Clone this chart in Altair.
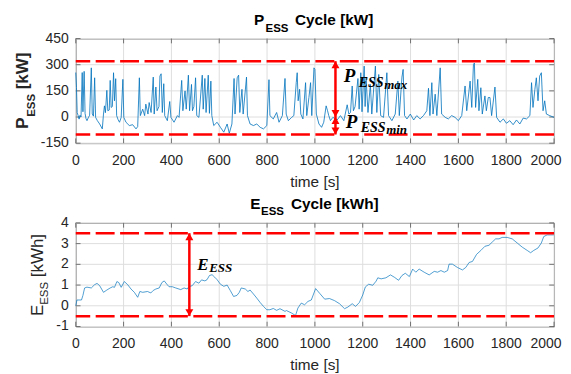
import altair as alt
import pandas as pd

SANS = "Liberation Sans"
SERIF = "Liberation Serif"
BLUE = "#0072BD"
RED = "#ff0000"
DARK = "#262626"
GRID = "#dedede"
TICK = "#555555"

# ---- data ----
p_t = [0, 3, 6, 10, 14, 18, 22, 27, 30, 35, 39, 43, 47, 52, 58, 65, 69, 74, 79, 83,
       90, 100, 111, 116, 120, 124, 130, 134, 140, 144, 148, 153, 158, 162, 167, 171, 177, 183, 190, 197,
       201, 210, 224, 238, 252, 259, 266, 270, 280, 288, 293, 302, 307, 315, 324, 328, 335, 340, 348, 352,
       357, 362, 368, 372, 383, 393, 398, 411, 425, 432, 443, 448, 457, 462, 471, 476, 484, 488, 494, 501,
       506, 515, 529, 533, 540, 545, 554, 559, 565, 569, 577, 591, 605, 619, 633, 642, 653, 662, 666, 675,
       681, 686, 695, 700, 714, 718, 729, 743, 757, 771, 785, 799, 808, 812, 826, 840, 850, 864, 875, 880,
       889, 903, 912, 922, 926, 930, 936, 941, 950, 961, 966, 975, 982, 987, 996, 1000, 1006, 1017, 1028, 1037,
       1047, 1053, 1058, 1065, 1075, 1093, 1107, 1121, 1135, 1142, 1149, 1156, 1161, 1168, 1180, 1185, 1192, 1197, 1206, 1210,
       1214, 1222, 1232, 1238, 1253, 1259, 1267, 1275, 1287, 1301, 1308, 1322, 1336, 1347, 1353, 1364, 1369, 1375, 1385, 1399,
       1413, 1426, 1440, 1454, 1468, 1475, 1481, 1489, 1494, 1503, 1510, 1524, 1530, 1545, 1558, 1572, 1586, 1600, 1614, 1628,
       1635, 1649, 1656, 1663, 1667, 1672, 1681, 1686, 1694, 1700, 1711, 1717, 1725, 1732, 1739, 1753, 1760, 1774, 1788, 1801,
       1815, 1829, 1843, 1857, 1871, 1885, 1899, 1906, 1912, 1920, 1926, 1933, 1940, 1947, 1954, 1961, 1968, 1982, 2000]
p_v = [255, 170, 25, 8, -12, 10, 0, 255, 30, 262, 20, -10, -21, -5, 10, 282, 17, 5, 225, -2,
       -20, -40, -68, 17, 64, 25, 153, 36, 40, 210, 55, 60, 254, 93, 220, 8, -15, -30, -2, 216,
       -2, -30, -49, -44, -68, -55, 225, 8, 45, 8, 74, 17, 83, 26, 229, 17, 172, 36, 60, 235,
       248, 26, 191, 8, -21, 89, -2, -30, 8, -2, 210, 36, 150, 45, 240, 36, 187, 36, 60, 225,
       8, -2, 240, 45, 221, 26, 240, 21, 206, 8, -49, -30, -59, -87, -40, -93, -40, 221, 17, 225,
       240, 26, 159, 17, 229, 8, -40, -49, -40, -59, -68, -49, 214, 8, -11, 26, -30, 8, 221, 17,
       -21, -2, 8, 197, 254, 93, 159, 17, -11, 197, 8, 112, 197, 8, 282, 273, 17, -40, -59, -30,
       64, 36, 8, -21, -2, -17, 8, -21, 70, 17, 26, 178, 36, 60, 221, 45, 254, 30, 292, 60,
       225, 26, 187, 17, 292, 26, 244, 8, -2, 254, 8, -21, 17, 206, 8, 229, 273, 8, -11, 17,
       -17, 8, -11, 8, 36, 165, 8, 197, 17, 131, 8, 282, 17, -2, -11, 8, -2, -21, 8, 178,
       36, 206, 55, 301, 310, 55, 216, 36, 168, 17, 121, 36, 112, 112, 8, 172, -2, -30, -11, -36,
       -21, -44, -17, -40, -6, -11, 8, 197, 55, 159, 225, 93, 235, 254, 36, 93, 17, 8, -2]

e_t = [0, 5, 24, 30, 37, 47, 65, 79, 89, 100, 116, 130, 144, 155, 162, 172, 180, 190, 203, 217,
       231, 245, 259, 268, 280, 300, 314, 324, 335, 349, 360, 370, 381, 390, 404, 418, 439, 453, 466, 473,
       487, 501, 515, 526, 540, 549, 559, 570, 581, 591, 605, 619, 633, 646, 660, 674, 684, 692, 709, 720,
       729, 743, 757, 771, 785, 799, 812, 826, 840, 854, 875, 881, 901, 919, 929, 943, 957, 971, 985, 1003,
       1020, 1041, 1061, 1082, 1103, 1124, 1138, 1156, 1170, 1186, 1200, 1211, 1225, 1242, 1256, 1263, 1277, 1297, 1316, 1332,
       1350, 1364, 1378, 1395, 1409, 1422, 1436, 1457, 1478, 1499, 1513, 1527, 1541, 1555, 1561, 1575, 1596, 1617, 1631, 1645,
       1659, 1676, 1694, 1711, 1728, 1742, 1756, 1770, 1783, 1804, 1825, 1846, 1867, 1888, 1902, 1915, 1933, 1947, 1957, 1971, 1999]
e_v = [0.0, 0.28, 0.28, 0.5, 0.86, 0.9, 0.86, 1.02, 1.08, 0.97, 0.65, 0.76, 0.86, 0.92, 0.89, 1.17, 1.12, 0.89, 1.17, 1.02,
       0.81, 0.65, 0.41, 0.69, 0.65, 0.69, 0.62, 0.74, 0.81, 0.86, 1.12, 1.2, 1.04, 0.92, 0.92, 0.86, 0.78, 0.86, 0.81, 0.92,
       0.97, 1.17, 1.09, 1.25, 1.2, 1.26, 1.46, 1.5, 1.38, 1.26, 1.04, 0.94, 1.0, 0.74, 0.45, 0.5, 0.65, 0.86, 0.81, 0.69,
       0.76, 0.57, 0.37, 0.16, -0.03, -0.19, -0.19, -0.13, -0.22, -0.14, -0.27, -0.23, -0.34, -0.47, -0.11, 0.13, 0.05, 0.21, 0.28, 0.83,
       0.6, 0.32, 0.35, 0.25, 0.1, -0.14, -0.06, 0.1, -0.03, 0.16, 0.52, 0.91, 1.04, 0.99, 1.19, 1.35, 1.3, 1.35, 1.49, 1.38,
       1.23, 1.46, 1.57, 1.41, 1.77, 1.62, 1.77, 1.62, 1.49, 1.66, 1.62, 1.7, 1.62, 1.7, 2.01, 2.01, 1.85, 1.73, 1.85, 2.09,
       2.14, 2.48, 2.67, 2.87, 2.92, 3.08, 3.23, 3.23, 3.3, 3.3, 3.23, 3.03, 2.83, 2.67, 2.56, 2.67, 2.79, 3.03, 3.34, 3.42, 3.42]

x_ticks = [0, 200, 400, 600, 800, 1000, 1200, 1400, 1600, 1800, 2000]
p_ticks = [-150, 0, 150, 300, 450]
e_ticks = [-1, 0, 1, 2, 3, 4]
p_limits = [320, -100]          # P_ESS max / min dashed lines
e_limits = [3.5, -0.5]          # E_ESS dashed lines
p_arrow_t = 1086
p_arrow_mid = 0
e_arrow_t = 475

W = 480
H1 = 105
H2 = 104
NOAX = None


def X(field="t"):
    return alt.X(field + ":Q", axis=NOAX)


def Y(field="v"):
    return alt.Y(field + ":Q", axis=NOAX)


def frame_layers(yvals, h):
    gx = alt.Chart(alt.Data(values=[{"t": t} for t in x_ticks])).mark_rule(
        color=GRID, strokeWidth=1).encode(x=X())
    gy = alt.Chart(alt.Data(values=[{"v": v} for v in yvals])).mark_rule(
        color=GRID, strokeWidth=1).encode(y=Y())
    # inward tick marks on all four sides of the box
    tb = alt.Chart(alt.Data(values=[{"t": t} for t in x_ticks])).mark_rule(
        color=TICK, strokeWidth=0.8).encode(x=X(), y=alt.value(h - 4.8), y2=alt.value(h))
    tt = alt.Chart(alt.Data(values=[{"t": t} for t in x_ticks])).mark_rule(
        color=TICK, strokeWidth=0.8).encode(x=X(), y=alt.value(0), y2=alt.value(4.8))
    tl = alt.Chart(alt.Data(values=[{"v": v} for v in yvals])).mark_rule(
        color=TICK, strokeWidth=0.8).encode(y=Y(), x=alt.value(0), x2=alt.value(4.8))
    tr = alt.Chart(alt.Data(values=[{"v": v} for v in yvals])).mark_rule(
        color=TICK, strokeWidth=0.8).encode(y=Y(), x=alt.value(W - 4.8), x2=alt.value(W))
    ylab = alt.Chart(alt.Data(values=[{"v": v, "s": str(v)} for v in yvals])).mark_text(
        align="right", baseline="middle", fontSize=14, font=SANS, color=DARK
    ).encode(y=Y(), x=alt.value(-7), text="s:N")
    xlab = alt.Chart(alt.Data(values=[{"t": t, "s": str(t)} for t in x_ticks[:-1]])).mark_text(
        align="center", baseline="alphabetic", fontSize=14, font=SANS, color=DARK
    ).encode(x=X(), y=alt.value(h + 21.5), text="s:N")
    xlast = alt.Chart(alt.Data(values=[{"t": t, "s": str(t)} for t in x_ticks[-1:]])).mark_text(
        align="center", baseline="alphabetic", fontSize=14, font=SANS, color=DARK, dx=-8
    ).encode(x=X(), y=alt.value(h + 21.5), text="s:N")
    xtitle = alt.Chart(alt.Data(values=[{"s": "time [s]"}])).mark_text(
        align="center", baseline="alphabetic", fontSize=15.4, font=SANS, color=DARK
    ).encode(x=alt.value(W / 2), y=alt.value(h + 43.5), text="s:N")
    return [gx, gy, tb, tt, tl, tr, ylab, xlab, xlast, xtitle]


def pix_text(text, x, y, size, weight="normal", style="normal", font=SANS,
             angle=0, color="#000000"):
    return alt.Chart(alt.Data(values=[{"s": text}])).mark_text(
        align="left", baseline="alphabetic", fontSize=size, fontWeight=weight,
        fontStyle=style, font=font, angle=angle, color=color
    ).encode(x=alt.value(x), y=alt.value(y), text="s:N")


def data_text(rows, size):
    return alt.Chart(alt.Data(values=rows)).mark_text(
        align="left", baseline="alphabetic", fontSize=size, fontWeight="bold",
        fontStyle="italic", font=SERIF, color="#000000"
    ).encode(x=X(), y=Y(), text="s:N")


def limit_rules(vals):
    return alt.Chart(alt.Data(values=[{"v": v} for v in vals])).mark_rule(
        color=RED, strokeWidth=2.5, strokeDash=[19, 5.5]
    ).encode(y=Y())


def arrow(t, pairs):
    rows = [{"t": t, "v": a, "v2": b} for a, b in pairs]
    line = alt.Chart(alt.Data(values=rows)).mark_rule(
        color=RED, strokeWidth=2.5).encode(x=X(), y=Y(), y2="v2:Q")
    ups = alt.Chart(alt.Data(values=[{"t": t, "v": a} for a, b in pairs])).mark_point(
        shape="triangle-up", filled=True, size=64, yOffset=3.5, color=RED, opacity=1
    ).encode(x=X(), y=Y())
    downs = alt.Chart(alt.Data(values=[{"t": t, "v": b} for a, b in pairs])).mark_point(
        shape="triangle-down", filled=True, size=64, yOffset=-3.5, color=RED, opacity=1
    ).encode(x=X(), y=Y())
    return [line, ups, downs]


# ---- top panel: P_ESS ----
p_df = pd.DataFrame({"t": p_t, "v": p_v})
p_line = alt.Chart(p_df).mark_line(color=BLUE, strokeWidth=0.8).encode(
    x=alt.X("t:Q", scale=alt.Scale(domain=[0, 2000], nice=False), axis=NOAX),
    y=alt.Y("v:Q", scale=alt.Scale(domain=[-150, 450], nice=False), axis=NOAX),
)

top = alt.layer(
    *frame_layers(p_ticks, H1),
    p_line,
    limit_rules(p_limits),
    *arrow(p_arrow_t, [(p_limits[0], p_arrow_mid), (p_arrow_mid, p_limits[1])]),
    data_text([{"t": 1121, "v": 198, "s": "P"}], 19),
    data_text([{"t": 1183, "v": 170, "s": "ESS"}], 14),
    data_text([{"t": 1290, "v": 160, "s": "max"}], 13),
    data_text([{"t": 1129, "v": -64, "s": "P"}], 19),
    data_text([{"t": 1192, "v": -87, "s": "ESS"}], 14),
    data_text([{"t": 1298, "v": -100, "s": "min"}], 13),
    # title
    pix_text("P", 179, -14, 15.4, weight="bold"),
    pix_text("ESS", 190.5, -7, 11.5, weight="bold"),
    pix_text("Cycle [kW]", 220, -14, 15.4, weight="bold"),
    # y label
    pix_text("P", -48, 90.4, 17, weight="bold", angle=270, color=DARK),
    pix_text("ESS", -41, 78.6, 11.5, weight="bold", angle=270, color=DARK),
    pix_text("[kW]", -48, 50.9, 17, weight="bold", angle=270, color=DARK),
).properties(width=W, height=H1)

# ---- bottom panel: E_ESS ----
e_df = pd.DataFrame({"t": e_t, "v": e_v})
e_line = alt.Chart(e_df).mark_line(color=BLUE, strokeWidth=0.8, opacity=0.85).encode(
    x=alt.X("t:Q", scale=alt.Scale(domain=[0, 2000], nice=False), axis=NOAX),
    y=alt.Y("v:Q", scale=alt.Scale(domain=[-1, 4], nice=False), axis=NOAX),
)

bottom = alt.layer(
    *frame_layers(e_ticks, H2),
    e_line,
    limit_rules(e_limits),
    *arrow(e_arrow_t, [(e_limits[0], e_limits[1])]),
    data_text([{"t": 508, "v": 1.74, "s": "E"}], 17),
    data_text([{"t": 558, "v": 1.64, "s": "ESS"}], 13),
    pix_text("E", 175, -14, 15.4, weight="bold"),
    pix_text("ESS", 186, -7.5, 11.5, weight="bold"),
    pix_text("Cycle [kWh]", 216, -14, 15.4, weight="bold"),
    pix_text("E", -33, 93.5, 17, angle=270, color=DARK),
    pix_text("ESS", -28, 82.2, 11.5, angle=270, color=DARK),
    pix_text("[kWh]", -33, 54.5, 17, angle=270, color=DARK),
).properties(width=W, height=H2)

chart = alt.vconcat(top, bottom, spacing=80, bounds="flush").properties(
    padding={"left": 5, "top": 3, "right": 0, "bottom": 0}
).configure(font=SANS).configure_view(stroke="#8a8a8a", strokeWidth=1)

chart.save("out.html", embed_options={"renderer": "svg", "actions": False})
